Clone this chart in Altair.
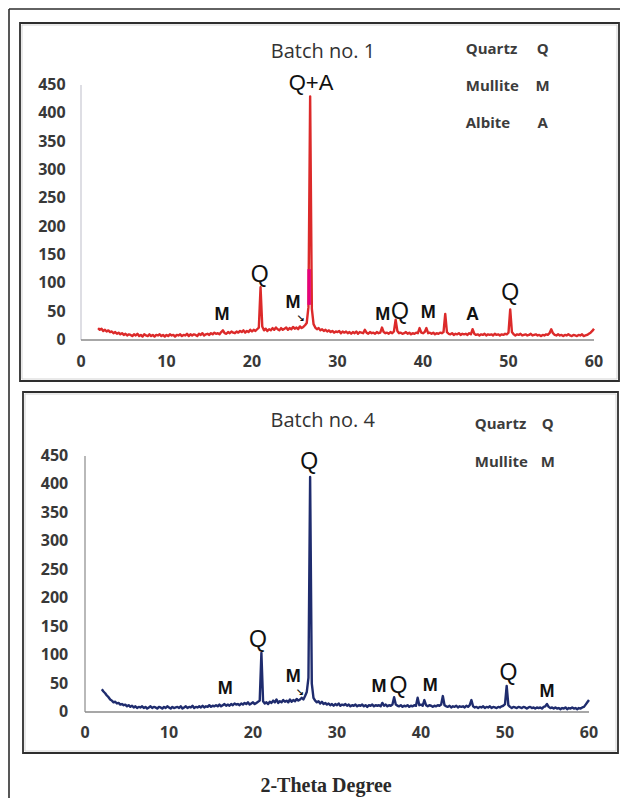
import altair as alt
import pandas as pd

# ---------------- data ----------------
# 2-theta sampling grid: 2.0, 2.2, ... 60.0
two_theta = [round(2.0 + 0.2 * i, 1) for i in range(291)]

# Batch no. 1 intensities (5 values per degree: d.0 d.2 d.4 d.6 d.8)
batch1 = [
    21, 18, 20, 16, 18,   # 2
    15, 17, 14, 15, 12,   # 3
    14, 11, 13, 10, 12,   # 4
    9, 11, 8, 10, 9,      # 5
    7, 10, 8, 11, 7,      # 6
    9, 6, 10, 8, 7,       # 7
    10, 7, 9, 6, 9,       # 8
    8, 10, 7, 9, 6,       # 9
    9, 7, 10, 8, 9,       # 10
    6, 9, 8, 10, 7,       # 11
    9, 8, 11, 7, 10,      # 12
    8, 10, 9, 7, 11,      # 13
    9, 12, 8, 10, 11,     # 14
    9, 12, 10, 13, 11,    # 15
    12, 10, 14, 17, 12,   # 16
    11, 14, 12, 15, 13,   # 17
    12, 15, 13, 16, 14,   # 18
    17, 13, 16, 14, 18,   # 19
    15, 18, 16, 19, 22,   # 20
    93, 24, 17, 20, 16,   # 21
    19, 17, 21, 18, 22,   # 22
    19, 17, 21, 18, 20,   # 23
    22, 18, 21, 19, 23,   # 24
    20, 22, 19, 24, 21,   # 25
    23, 26, 30, 58, 430,  # 26
    55, 28, 22, 19, 21,   # 27
    17, 19, 16, 18, 15,   # 28
    17, 14, 16, 13, 15,   # 29
    14, 16, 12, 15, 13,   # 30
    15, 12, 14, 11, 14,   # 31
    12, 15, 11, 14, 13,   # 32
    12, 18, 13, 11, 14,   # 33
    12, 13, 11, 14, 12,   # 34
    13, 22, 14, 12, 13,   # 35
    11, 14, 12, 15, 36,   # 36
    16, 12, 13, 11, 12,   # 37
    14, 11, 13, 10, 12,   # 38
    11, 13, 12, 21, 13,   # 39
    12, 14, 21, 12, 13,   # 40
    11, 13, 10, 12, 11,   # 41
    13, 12, 14, 46, 14,   # 42
    11, 10, 12, 9, 11,    # 43
    10, 12, 9, 11, 10,    # 44
    11, 9, 12, 10, 19,    # 45
    11, 9, 10, 8, 10,     # 46
    9, 11, 8, 10, 9,      # 47
    10, 8, 11, 9, 10,     # 48
    8, 10, 9, 11, 10,     # 49
    13, 54, 14, 10, 8,    # 50
    10, 9, 11, 8, 9,      # 51
    10, 8, 9, 11, 8,      # 52
    9, 10, 8, 9, 7,       # 53
    9, 8, 10, 9, 12,      # 54
    19, 12, 9, 8, 10,     # 55
    8, 9, 7, 9, 8,        # 56
    10, 8, 7, 9, 8,       # 57
    7, 9, 8, 10, 7,       # 58
    8, 9, 11, 13, 16,     # 59
    20,                   # 60
]

# Batch no. 4 intensities
batch4 = [
    40, 36, 33, 29, 26,   # 2
    22, 20, 17, 18, 15,   # 3
    16, 13, 14, 12, 13,   # 4
    10, 12, 9, 11, 8,     # 5
    10, 7, 9, 8, 10,      # 6
    7, 9, 6, 8, 10,       # 7
    7, 9, 8, 6, 9,        # 8
    8, 6, 9, 7, 10,       # 9
    8, 6, 9, 7, 8,        # 10
    9, 7, 10, 6, 8,       # 11
    10, 7, 9, 8, 11,      # 12
    7, 9, 8, 10, 8,       # 13
    11, 8, 10, 9, 12,     # 14
    9, 11, 10, 12, 10,    # 15
    13, 10, 12, 14, 11,   # 16
    13, 11, 14, 12, 15,   # 17
    13, 14, 12, 15, 13,   # 18
    16, 14, 17, 13, 15,   # 19
    17, 14, 16, 18, 20,   # 20
    104, 19, 15, 17, 14,  # 21
    18, 16, 20, 17, 22,   # 22
    16, 19, 17, 21, 18,   # 23
    20, 17, 22, 18, 21,   # 24
    19, 23, 20, 22, 25,   # 25
    22, 28, 35, 60, 413,  # 26
    50, 25, 20, 17, 19,   # 27
    15, 18, 14, 16, 13,   # 28
    15, 12, 14, 11, 14,   # 29
    12, 15, 11, 13, 12,   # 30
    14, 11, 13, 10, 12,   # 31
    11, 13, 10, 12, 11,   # 32
    13, 10, 12, 9, 12,    # 33
    11, 13, 10, 12, 11,   # 34
    12, 10, 16, 11, 13,   # 35
    10, 12, 11, 13, 26,   # 36
    13, 11, 10, 12, 9,    # 37
    11, 10, 12, 9, 11,    # 38
    10, 12, 11, 25, 12,   # 39
    13, 11, 21, 12, 10,   # 40
    12, 11, 9, 11, 10,    # 41
    12, 11, 13, 28, 12,   # 42
    10, 9, 11, 8, 10,     # 43
    9, 11, 8, 10, 9,      # 44
    10, 8, 11, 9, 12,     # 45
    21, 10, 8, 9, 7,      # 46
    9, 8, 10, 7, 9,       # 47
    8, 10, 7, 9, 8,       # 48
    7, 9, 8, 10, 11,      # 49
    14, 46, 12, 9, 7,     # 50
    9, 8, 7, 9, 8,        # 51
    7, 9, 8, 6, 8,        # 52
    9, 7, 8, 6, 8,        # 53
    7, 8, 6, 9, 10,       # 54
    14, 9, 7, 8, 6,       # 55
    8, 6, 7, 5, 7,        # 56
    6, 8, 5, 7, 6,        # 57
    8, 6, 7, 5, 7,        # 58
    6, 8, 9, 13, 17,      # 59
    21,                   # 60
]

y_ticks = [0, 50, 100, 150, 200, 250, 300, 350, 400, 450]
x_ticks = [0, 10, 20, 30, 40, 50, 60]

# peak labels (data coordinates)
b1_big_text = ["Q+A", "Q", "Q", "Q"]
b1_big_x = [26.9, 20.9, 37.3, 50.2]
b1_big_y = [453, 115, 49, 83]
b1_small_text = ["M", "M", "M", "M", "A"]
b1_small_x = [16.5, 24.8, 35.3, 40.6, 45.8]
b1_small_y = [44, 66, 44, 48, 44]

b4_big_text = ["Q", "Q", "Q", "Q"]
b4_big_x = [26.7, 20.6, 37.3, 50.4]
b4_big_y = [439, 127, 46, 69]
b4_small_text = ["M", "M", "M", "M", "M"]
b4_small_x = [16.7, 24.8, 35.0, 41.1, 55.0]
b4_small_y = [40, 61, 44, 46, 35]

b1_legend_names = ["Quartz", "Mullite", "Albite"]
b1_legend_codes = ["Q", "M", "A"]
b4_legend_names = ["Quartz", "Mullite"]
b4_legend_codes = ["Q", "M"]

# ---------------- layout ----------------
W, H = 612, 790
M = 8  # page margin

def scales(x0_page, px_per_deg, y0_page, px_per_count):
    x0 = x0_page - M
    y0 = y0_page - M
    sx = alt.Scale(domain=[-x0 / px_per_deg, (W - x0) / px_per_deg], nice=False, zero=False)
    sy = alt.Scale(domain=[(y0 - H) / px_per_count, y0 / px_per_count], nice=False, zero=False)
    conv = lambda px, py: ((px - M - x0) / px_per_deg, (y0 - (py - M)) / px_per_count)
    return sx, sy, conv

sx1, sy1, c1 = scales(81, 513 / 60, 340, 255 / 450)
sx4, sy4, c4 = scales(85, 504 / 60, 712, 256 / 450)

TICK_FONT = "Open Sans"
TICK_COLOR = "#383838"


def panel(sx, sy, conv, xs, ys, color, box_px, title, title_pos, leg_names, leg_codes,
          leg_x, leg_code_x, leg_y, big, small, arrow, ylab_right, xlab_y, ax_color_y, ax_color_x):
    X = lambda f: alt.X(f, type="quantitative", scale=sx, axis=None)
    Y = lambda f: alt.Y(f, type="quantitative", scale=sy, axis=None)
    layers = []

    # panel box
    (bx1, by1), (bx2, by2) = conv(box_px[0], box_px[1]), conv(box_px[2], box_px[3])
    box = pd.DataFrame({"x": [bx1], "x2": [bx2], "y": [by1], "y2": [by2]})
    layers.append(alt.Chart(box).mark_rect(fillOpacity=0, stroke="#2e2e2e", strokeWidth=1.8)
                  .encode(x=X("x"), x2="x2", y=Y("y"), y2="y2"))
    (ix1, iy1), (ix2, iy2) = conv(box_px[0] + 2, box_px[1] + 2), conv(box_px[2] - 2, box_px[3] - 2)
    inner = pd.DataFrame({"x": [ix1], "x2": [ix2], "y": [iy1], "y2": [iy2]})
    layers.append(alt.Chart(inner).mark_rect(fillOpacity=0, stroke="#c8c8c8", strokeWidth=0.8)
                  .encode(x=X("x"), x2="x2", y=Y("y"), y2="y2"))

    # axis lines
    layers.append(alt.Chart(pd.DataFrame({"x": [0], "y": [0], "y2": [450]}))
                  .mark_rule(color=ax_color_y, strokeWidth=1.2)
                  .encode(x=X("x"), y=Y("y"), y2="y2"))
    layers.append(alt.Chart(pd.DataFrame({"x": [0], "x2": [60], "y": [0]}))
                  .mark_rule(color=ax_color_x, strokeWidth=1.5)
                  .encode(x=X("x"), x2="x2", y=Y("y")))

    # pattern
    df = pd.DataFrame({"x": xs, "y": ys})
    layers.append(alt.Chart(df).mark_line(color=color, strokeWidth=2.4, strokeJoin="round")
                  .encode(x=X("x"), y=Y("y")))

    # tick labels
    yl = pd.DataFrame({"x": [ylab_right] * len(y_ticks), "y": y_ticks, "t": [str(v) for v in y_ticks]})
    layers.append(alt.Chart(yl).mark_text(font=TICK_FONT, fontSize=16, fontWeight="bold", color=TICK_COLOR,
                                          align="right", baseline="middle")
                  .encode(x=X("x"), y=Y("y"), text="t:N"))
    xl = pd.DataFrame({"x": x_ticks, "y": [xlab_y] * len(x_ticks), "t": [str(v) for v in x_ticks]})
    layers.append(alt.Chart(xl).mark_text(font=TICK_FONT, fontSize=16, fontWeight="bold", color=TICK_COLOR,
                                          align="center", baseline="middle")
                  .encode(x=X("x"), y=Y("y"), text="t:N"))

    # title
    layers.append(alt.Chart(pd.DataFrame({"x": [title_pos[0]], "y": [title_pos[1]], "t": [title]}))
                  .mark_text(font="Open Sans", fontSize=20, color="#333333", align="center", baseline="middle")
                  .encode(x=X("x"), y=Y("y"), text="t:N"))

    # legend text
    ln = pd.DataFrame({"x": [leg_x] * len(leg_names), "y": leg_y, "t": leg_names})
    layers.append(alt.Chart(ln).mark_text(font="Open Sans", fontSize=15, fontWeight="bold", color="#3c3c3c",
                                          align="left", baseline="middle")
                  .encode(x=X("x"), y=Y("y"), text="t:N"))
    lc = pd.DataFrame({"x": [leg_code_x] * len(leg_codes), "y": leg_y, "t": leg_codes})
    layers.append(alt.Chart(lc).mark_text(font="Open Sans", fontSize=15, fontWeight="bold", color="#3c3c3c",
                                          align="center", baseline="middle")
                  .encode(x=X("x"), y=Y("y"), text="t:N"))

    # peak labels
    bt, bxv, byv = big
    for t, x, y in zip(bt, bxv, byv):
        layers.append(alt.Chart(pd.DataFrame({"x": [x], "y": [y], "t": [t]}))
                      .mark_text(font="Liberation Sans", fontSize=22 if len(t) > 1 else 23, color="#111111",
                                 align="center", baseline="middle")
                      .encode(x=X("x"), y=Y("y"), text="t:N"))
    st, sxv, syv = small
    layers.append(alt.Chart(pd.DataFrame({"x": sxv, "y": syv, "t": st}))
                  .mark_text(font="Liberation Sans", fontSize=18, fontWeight="bold", color="#111111",
                             align="center", baseline="middle")
                  .encode(x=X("x"), y=Y("y"), text="t:N"))
    layers.append(alt.Chart(pd.DataFrame({"x": [arrow[0]], "y": [arrow[1]], "t": ["\u2198"]}))
                  .mark_text(font="DejaVu Sans", fontSize=10, fontWeight="bold", color="#111111",
                             align="center", baseline="middle")
                  .encode(x=X("x"), y=Y("y"), text="t:N"))
    return layers


top_layers = panel(
    sx1, sy1, c1, two_theta, batch1, "#dc2a2a", (20, 23, 619, 381),
    "Batch no. 1", (28.3, 508),
    b1_legend_names, b1_legend_codes, 45.0, 54.0, [513, 448, 383],
    (b1_big_text, b1_big_x, b1_big_y), (b1_small_text, b1_small_x, b1_small_y),
    (25.7, 37), -1.8, -38.8, "#c8c8d2", "#8a8a8a",
)

# magenta segment on the main peak of batch 1
X1 = lambda f: alt.X(f, type="quantitative", scale=sx1, axis=None)
Y1 = lambda f: alt.Y(f, type="quantitative", scale=sy1, axis=None)
top_layers.append(alt.Chart(pd.DataFrame({"x": [26.68], "y": [62], "y2": [125]}))
                  .mark_rule(color="#e6007e", strokeWidth=3.5)
                  .encode(x=X1("x"), y=Y1("y"), y2="y2"))

# outer frame (left and top lines)
(fl_x, fl_top) = c1(9, 9)
(fr_x, fl_bot) = c1(M + W, M + H)
top_layers.append(alt.Chart(pd.DataFrame({"x": [fl_x], "y": [fl_bot], "y2": [fl_top]}))
                  .mark_rule(color="#2e2e2e", strokeWidth=1.6)
                  .encode(x=X1("x"), y=Y1("y"), y2="y2"))
top_layers.append(alt.Chart(pd.DataFrame({"x": [fl_x], "x2": [fr_x], "y": [fl_top]}))
                  .mark_rule(color="#2e2e2e", strokeWidth=1.6)
                  .encode(x=X1("x"), x2="x2", y=Y1("y")))

bot_layers = panel(
    sx4, sy4, c4, two_theta, batch4, "#1f2c6e", (23, 392, 618, 753),
    "Batch no. 4", (28.3, 511),
    b4_legend_names, b4_legend_codes, 46.4, 55.1, [506, 439],
    (b4_big_text, b4_big_x, b4_big_y), (b4_small_text, b4_small_x, b4_small_y),
    (25.6, 33), -2.0, -36.9, "#8a8a8a", "#8a8a8a",
)

X4 = lambda f: alt.X(f, type="quantitative", scale=sx4, axis=None)
Y4 = lambda f: alt.Y(f, type="quantitative", scale=sy4, axis=None)
bot_layers.append(alt.Chart(pd.DataFrame({"x": [28.7], "y": [-130], "t": ["2-Theta Degree"]}))
                  .mark_text(font="Liberation Serif", fontSize=20, fontWeight="bold", color="#2a2a2a",
                             align="center", baseline="middle")
                  .encode(x=X4("x"), y=Y4("y"), text="t:N"))

top = alt.layer(*top_layers)
bottom = alt.layer(*bot_layers)

chart = (
    alt.layer(top, bottom)
    .resolve_scale(x="independent", y="independent")
    .properties(width=W, height=H, padding=0, autosize=alt.AutoSizeParams(type="none"),
                background="white")
    .configure_view(strokeWidth=0)
)

chart.save("out.html", embed_options={"renderer": "svg", "actions": False})
